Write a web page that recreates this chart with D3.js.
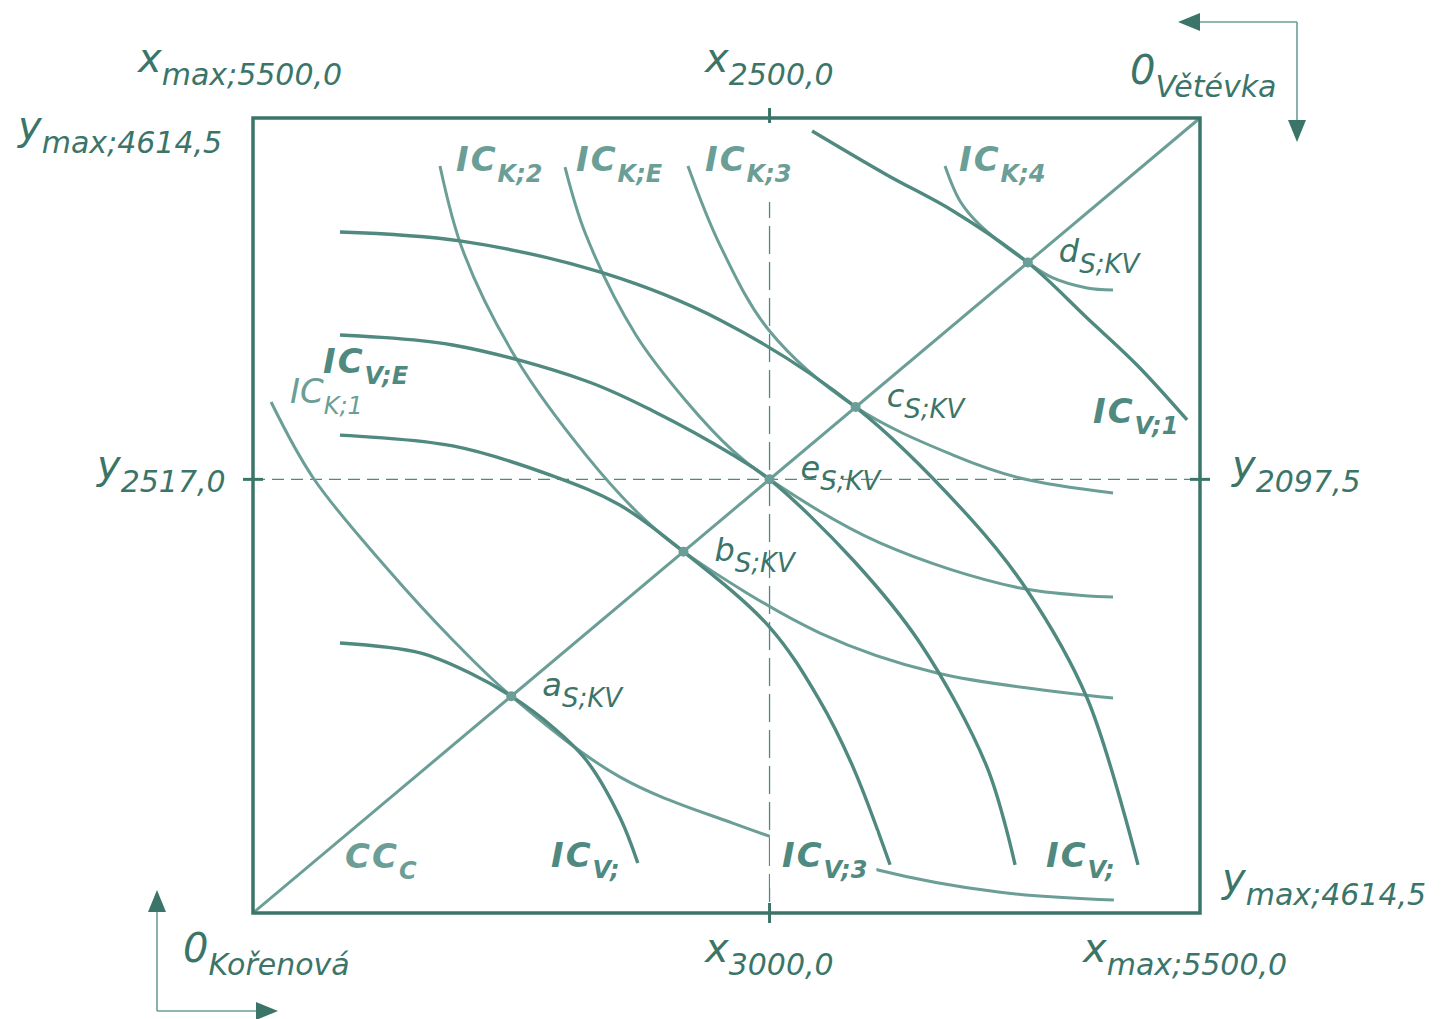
<!DOCTYPE html>
<html>
<head>
<meta charset="utf-8">
<script src="https://cdn.jsdelivr.net/npm/d3@7"></script>
<style>
    body { margin: 0; background: #ffffff; }
    svg { display: block; }
</style>
</head>
<body>
<div id="edgeworth"></div>
<script>
// box size (data units)
var xMax = 5500.0, yMax = 4614.5;
// initial endowment e, seen from Kořenová and from Větévka
var xEndow = 3000.0, yEndow = 2517.0;
var xEndowV = 2500.0, yEndowV = 2097.5;

// tangency points on the contract curve CC_C
var pointNames = ["a", "b", "e", "c", "d"];
var pointX = [1500, 2500, 3000, 3500, 4500];
var pointY = [1258.5, 2097.5, 2517.0, 2936.6, 3775.5];

// indifference curves of Kořenová (origin bottom left)
var icK1 = [[105, 2966], [350, 2525], [770, 2010], [1160, 1585], [1500, 1258.5], [2130, 790], [2790, 520],
    [3630, 250], [4340, 120], [5000, 75]];
var icK2 = [[1086, 4336], [1220, 3842], [1527, 3221], [1934, 2658], [2265, 2293], [2500, 2097.5], [3293, 1625],
    [3972, 1393], [4995, 1248]];
var icKE = [[1812, 4330], [1934, 3935], [2224, 3355], [2515, 2972], [2788, 2682], [3000, 2517], [3641, 2148],
    [4455, 1886], [4995, 1834]];
var icK3 = [[2526, 4336], [2712, 3877], [3000, 3378], [3500, 2936.6], [4066, 2658], [4455, 2525], [4995, 2438]];
var icK4 = [[4019, 4336], [4106, 4133], [4222, 3993], [4500, 3775.5], [4646, 3686], [4844, 3628], [4995, 3616]];

// indifference curves of Větévka (origin top right)
var icV1 = [[3247, 4539], [3682, 4284], [4066, 4075], [4500, 3775.5], [4844, 3454], [5134, 3181], [5425, 2862]];
var icV2 = [[505, 3953], [1202, 3901], [2033, 3715], [2712, 3442], [3500, 2936.6], [4164, 2293], [4495, 1875],
    [4844, 1248], [5140, 279]];
var icVE = [[505, 3355], [1160, 3297], [1935, 3088], [2323, 2914], [2788, 2658], [3000, 2517], [3485, 2049],
    [3874, 1567], [4263, 847], [4426, 279]];
var icV3 = [[505, 2774], [1160, 2711], [1740, 2537], [2130, 2368], [2500, 2097.5], [3000, 1660], [3290, 1236],
    [3485, 847], [3700, 280]];
var icV4 = [[505, 1567], [970, 1510], [1260, 1393], [1500, 1258.5], [1740, 1080], [1935, 888], [2130, 557],
    [2235, 290]];

var kCurves = [icK1, icK2, icKE, icK3, icK4];
var vCurves = [icV1, icV2, icVE, icV3, icV4];


// set up layout
var width = 1445, height = 1019;
var box = { left: 253, right: 1200, top: 118, bottom: 913 };

var cDark = "#3b7569",
    cMid = "#4f897f",
    cLight = "#6b9e96",
    font = "'DejaVu Sans', Verdana, sans-serif";

var x = d3.scaleLinear().domain([0, xMax]).range([box.left, box.right]);
var y = d3.scaleLinear().domain([0, yMax]).range([box.bottom, box.top]);

var line = d3.line()
    .x(function (d) { return x(d[0]); })
    .y(function (d) { return y(d[1]); })
    .curve(d3.curveCatmullRom.alpha(0.5));

var fmt = function (v) { return v.toFixed(1).replace(".", ","); };

var svg = d3.select("#edgeworth").append("svg")
    .attr("width", width)
    .attr("height", height);


// dashed endowment lines
svg.append("line")
    .attr("x1", x(0)).attr("x2", x(xMax))
    .attr("y1", y(yEndow)).attr("y2", y(yEndow))
    .style("stroke", cMid).style("stroke-width", 1.3)
    .style("stroke-dasharray", "12,7");

svg.append("line")
    .attr("x1", x(xEndow)).attr("x2", x(xEndow))
    .attr("y1", y(yMax)).attr("y2", y(0))
    .style("stroke", cMid).style("stroke-width", 1.3)
    .style("stroke-dasharray", "28,8");


// contract curve
svg.append("line")
    .attr("x1", x(0)).attr("y1", y(0))
    .attr("x2", x(xMax)).attr("y2", y(yMax))
    .style("stroke", cLight).style("stroke-width", 3);


// indifference curves
svg.selectAll(".icK")
    .data(kCurves)
    .enter().append("path")
    .attr("class", "icK")
    .attr("d", line)
    .style("fill", "none")
    .style("stroke", cLight)
    .style("stroke-width", 3);

svg.selectAll(".icV")
    .data(vCurves)
    .enter().append("path")
    .attr("class", "icV")
    .attr("d", line)
    .style("fill", "none")
    .style("stroke", cMid)
    .style("stroke-width", 3.4);


// tangency dots
svg.selectAll(".dot")
    .data(pointX)
    .enter().append("circle")
    .attr("class", "dot")
    .attr("r", 5)
    .attr("cx", function (d) { return x(d); })
    .attr("cy", function (d, i) { return y(pointY[i]); })
    .style("fill", cLight);


// box
svg.append("rect")
    .attr("x", box.left).attr("y", box.top)
    .attr("width", box.right - box.left)
    .attr("height", box.bottom - box.top)
    .style("fill", "none")
    .style("stroke", cDark)
    .style("stroke-width", 3.5);

// ticks at endowment
[box.top, box.bottom].forEach(function (yy) {
    svg.append("line")
        .attr("x1", x(xEndow)).attr("x2", x(xEndow))
        .attr("y1", yy - 10).attr("y2", yy + 10)
        .style("stroke", cDark).style("stroke-width", 3);
});
[box.left, box.right].forEach(function (xx) {
    svg.append("line")
        .attr("x1", xx - 10).attr("x2", xx + 10)
        .attr("y1", y(yEndow)).attr("y2", y(yEndow))
        .style("stroke", cDark).style("stroke-width", 3);
});


// text with a subscript
function subText(cfg) {
    var g = svg.append("g");
    var t = g.append("text")
        .attr("x", cfg.x)
        .attr("y", cfg.y)
        .style("font-family", font)
        .style("font-style", "oblique")
        .style("font-weight", cfg.bold ? "bold" : "normal")
        .style("fill", cfg.color);
    t.append("tspan")
        .style("font-size", cfg.size + "px")
        .style("letter-spacing", cfg.spacing || 0)
        .text(cfg.main);
    t.append("tspan")
        .attr("dy", cfg.dy)
        .style("font-size", cfg.subSize + "px")
        .text(cfg.sub);
    if (cfg.pad) {
        // white backing, pad = [left, top, right, bottom]
        var bb = t.node().getBBox(), p = cfg.pad;
        g.insert("rect", "text")
            .attr("x", bb.x - p[0]).attr("y", bb.y - p[1])
            .attr("width", bb.width + p[0] + p[2]).attr("height", bb.height + p[1] + p[3])
            .style("fill", "#ffffff");
    }
}


// axis labels
var axisLabels = [
    { main: "x", sub: "max;" + fmt(xMax), x: 138, y: 72 },
    { main: "x", sub: fmt(xEndowV), x: 705, y: 72 },
    { main: "0", sub: "Větévka", x: 1130, y: 84 },
    { main: "y", sub: "max;" + fmt(yMax), x: 18, y: 140 },
    { main: "y", sub: fmt(yEndow), x: 97, y: 479 },
    { main: "y", sub: fmt(yEndowV), x: 1232, y: 479 },
    { main: "y", sub: "max;" + fmt(yMax), x: 1222, y: 892 },
    { main: "x", sub: fmt(xEndow), x: 705, y: 962 },
    { main: "x", sub: "max;" + fmt(xMax), x: 1083, y: 962 },
    { main: "0", sub: "Kořenová", x: 183, y: 962 }
];
axisLabels.forEach(function (d) {
    subText({ main: d.main, sub: d.sub, x: d.x, y: d.y, dy: 13, size: 40, subSize: 30, color: cDark });
});


// curve labels
var curveLabels = [
    { main: "IC", sub: "K;2", x: 456, y: 171, color: cLight, bold: true },
    { main: "IC", sub: "K;E", x: 576, y: 171, color: cLight, bold: true },
    { main: "IC", sub: "K;3", x: 705, y: 171, color: cLight, bold: true, pad: [0, 16, 0, 14] },
    { main: "IC", sub: "K;4", x: 959, y: 171, color: cLight, bold: true },
    { main: "IC", sub: "V;E", x: 323, y: 373, color: cMid, bold: true },
    { main: "IC", sub: "K;1", x: 290, y: 403, color: cLight, bold: false },
    { main: "IC", sub: "V;1", x: 1093, y: 423, color: cMid, bold: true },
    { main: "CC", sub: "C", x: 345, y: 868, color: cLight, bold: true },
    { main: "IC", sub: "V;", x: 551, y: 867, color: cMid, bold: true },
    { main: "IC", sub: "V;3", x: 782, y: 867, color: cMid, bold: true, pad: [12, 4, 9, 4] },
    { main: "IC", sub: "V;", x: 1046, y: 867, color: cMid, bold: true }
];
curveLabels.forEach(function (d) {
    subText({ main: d.main, sub: d.sub, x: d.x, y: d.y, dy: 11, size: 34, subSize: 24,
        spacing: d.bold ? "2px" : "0px", color: d.color, bold: d.bold, pad: d.pad });
});


// point labels
var pointLabelDy = [0, 9, 0, 0, -1];
pointNames.forEach(function (name, i) {
    subText({ main: name, sub: "S;KV", x: x(pointX[i]) + 31, y: y(pointY[i]) + pointLabelDy[i],
        dy: 11, size: 32, subSize: 26, color: cDark });
});


// origin arrows
function arrow(x1, y1, x2, y2) {
    var ang = Math.atan2(y2 - y1, x2 - x1),
        len = 22, half = 9,
        bx = x2 - len * Math.cos(ang), by = y2 - len * Math.sin(ang);
    svg.append("line")
        .attr("x1", x1).attr("y1", y1).attr("x2", bx).attr("y2", by)
        .style("stroke", cLight).style("stroke-width", 1.6);
    svg.append("path")
        .attr("d", "M" + x2 + "," + y2 +
            "L" + (bx - half * Math.sin(ang)) + "," + (by + half * Math.cos(ang)) +
            "L" + (bx + half * Math.sin(ang)) + "," + (by - half * Math.cos(ang)) + "Z")
        .style("fill", cDark);
}
arrow(1297, 22, 1178, 22);
arrow(1297, 22, 1297, 142);
arrow(157, 1011, 157, 890);
arrow(157, 1011, 278, 1011);
</script>
</body>
</html>
